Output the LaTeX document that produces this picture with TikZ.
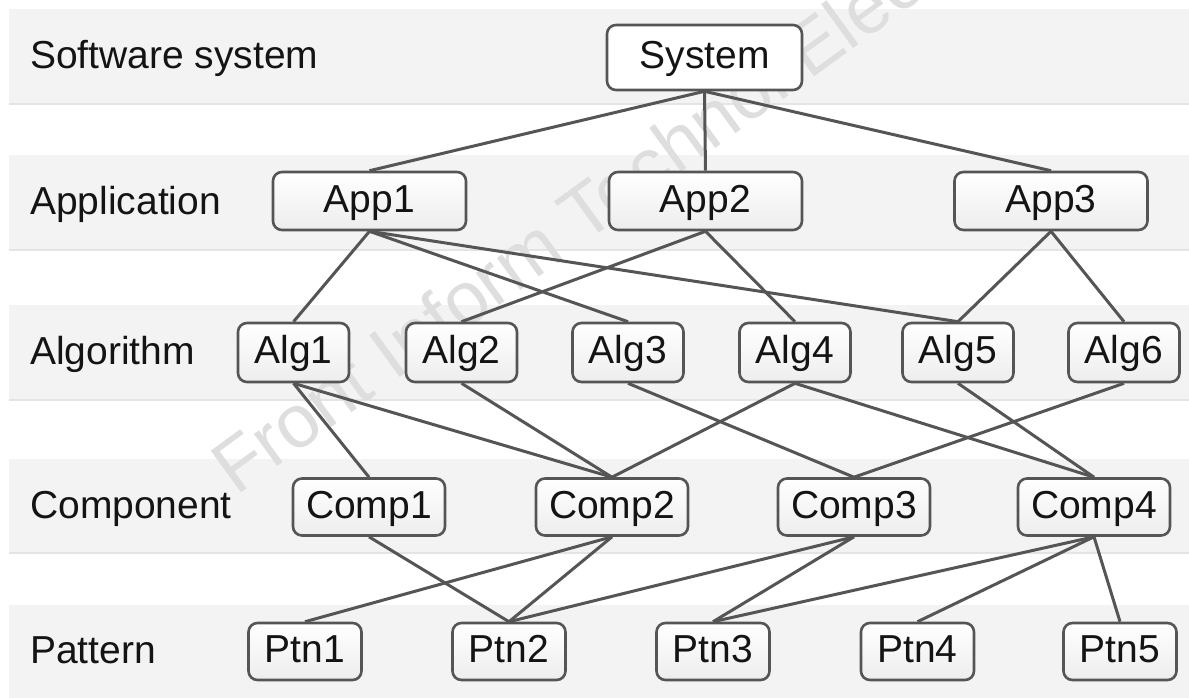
\documentclass[tikz,border=0pt]{standalone}
\usepackage{fontspec}
\setmainfont{Liberation Sans}
\pgfdeclarelayer{bg}
\pgfdeclarelayer{edges}
\pgfsetlayers{bg,edges,main}
\definecolor{bandgray}{HTML}{F3F3F3}
\definecolor{bandline}{HTML}{E4E4E4}
\definecolor{boxline}{HTML}{555555}
\definecolor{wmgray}{HTML}{DEDEDE}
\definecolor{txt}{HTML}{141414}
\tikzset{
  box/.style={draw=boxline, line width=2.6pt, rounded corners=9pt,
    top color=white, bottom color=black!7, font=\fontsize{39}{44}\selectfont,
    text=txt, inner sep=0pt, text height=24pt, text depth=2pt, anchor=center},
  sysbox/.style={box, minimum width=195pt, minimum height=65pt, bottom color=white},
  appbox/.style={box, minimum width=193pt, minimum height=58pt},
  algbox/.style={box, minimum width=111pt, minimum height=59pt},
  compbox/.style={box, minimum width=152pt, minimum height=57pt},
  ptnbox/.style={box, minimum width=113pt, minimum height=57pt},
  layerlabel/.style={anchor=base west, font=\fontsize{39}{44}\selectfont, text=txt, inner sep=0pt},
  band/.style={fill=bandgray, draw=none},
  link/.style={draw=boxline, line width=3pt}
}
\begin{document}
\begin{tikzpicture}[x=1pt, y=-1pt]
\clip (0,0) rectangle (1189,697);
\useasboundingbox (0,0) rectangle (1189,697);
\begin{pgfonlayer}{bg}
\fill[white] (0,0) rectangle (1189,697);
\foreach \t/\b in {9/104, 155/250, 305/400, 459/553, 605/700}{
  \fill[band] (9,\t) rectangle (1189,\b);
  \draw[bandline, line width=1.2pt] (9,\b) -- (1189,\b);
}
\node[rotate=36, anchor=base west, text=wmgray, font=\fontsize{75}{80}\selectfont, inner sep=0pt]
  (wm) at (236,497) {Front Inform Technol Elec};
\end{pgfonlayer}

\node[layerlabel] (lsys) at (30,68) {Software system};
\node[layerlabel] (lapp) at (30,214) {Application};
\node[layerlabel] (lalg) at (30,364) {Algorithm};
\node[layerlabel] (lcomp) at (30,518) {Component};
\node[layerlabel] (lptn) at (30,663) {Pattern};

\node[sysbox] (sys) at (704.5,57.5) {System};

\node[appbox] (app1) at (369.5,201) {App1};
\node[appbox] (app2) at (705.5,201) {App2};
\node[appbox] (app3) at (1051,201) {App3};

\node[algbox] (alg1) at (293.5,352.5) {Alg1};
\node[algbox] (alg2) at (461.5,352.5) {Alg2};
\node[algbox] (alg3) at (628,352.5) {Alg3};
\node[algbox] (alg4) at (795,352.5) {Alg4};
\node[algbox] (alg5) at (958,352.5) {Alg5};
\node[algbox] (alg6) at (1124,352.5) {Alg6};

\node[compbox] (comp1) at (369,507) {Comp1};
\node[compbox] (comp2) at (612,507) {Comp2};
\node[compbox] (comp3) at (854,507) {Comp3};
\node[compbox] (comp4) at (1094,507) {Comp4};

\node[ptnbox] (ptn1) at (305,651.5) {Ptn1};
\node[ptnbox] (ptn2) at (509,651.5) {Ptn2};
\node[ptnbox] (ptn3) at (713,651.5) {Ptn3};
\node[ptnbox] (ptn4) at (917.5,651.5) {Ptn4};
\node[ptnbox] (ptn5) at (1120,651.5) {Ptn5};

\begin{pgfonlayer}{edges}
\foreach \a/\b in {sys/app1, sys/app2, sys/app3,
  app1/alg1, app1/alg3, app1/alg5, app2/alg2, app2/alg4, app3/alg5, app3/alg6,
  alg1/comp1, alg1/comp2, alg2/comp2, alg3/comp3, alg4/comp2, alg4/comp4,
  alg5/comp4, alg6/comp3,
  comp1/ptn2, comp2/ptn1, comp2/ptn2, comp3/ptn2, comp3/ptn3,
  comp4/ptn3, comp4/ptn4, comp4/ptn5}{
  \draw[link] (\a.south) -- (\b.north);
}
\end{pgfonlayer}
\end{tikzpicture}
\end{document}
